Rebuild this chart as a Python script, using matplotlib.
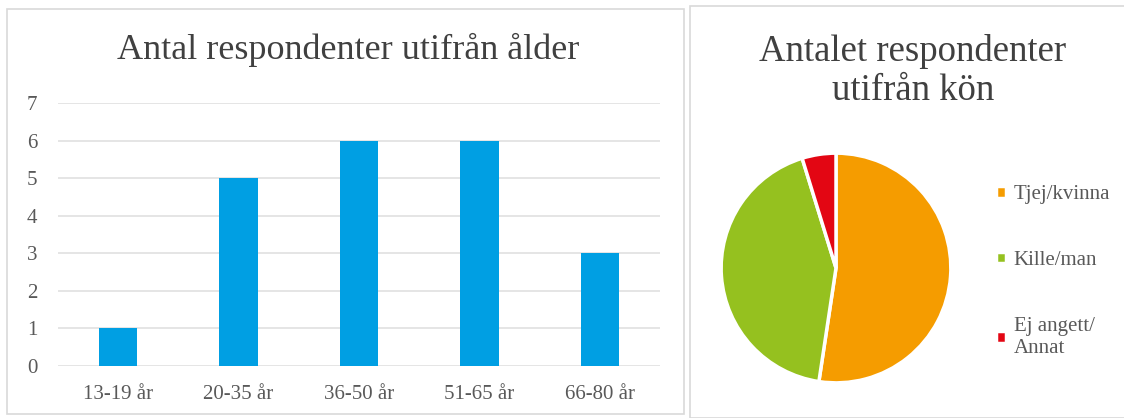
import matplotlib
matplotlib.use('Agg')
import matplotlib.pyplot as plt
from matplotlib.patches import Rectangle

plt.rcParams['font.family'] = ['Liberation Serif', 'DejaVu Serif']

# Data
age_groups = ['13-19 år', '20-35 år', '36-50 år', '51-65 år', '66-80 år']
age_counts = [1, 5, 6, 6, 3]

gender_labels = ['Tjej/kvinna', 'Kille/man', 'Ej angett/\nAnnat']
gender_counts = [11, 9, 1]
gender_colors = ['#F59C00', '#95C11F', '#E30613']

bar_color = '#009FE3'
text_color = '#595959'
title_color = '#404040'

W, H = 1124, 418
fig = plt.figure(figsize=(W / 100, H / 100), dpi=100)
fig.patch.set_facecolor('white')

# panel frames
fig.patches.append(Rectangle((7 / W, 4 / H), 677 / W, 405 / H, transform=fig.transFigure,
                             fill=False, edgecolor='#d9d9d9', linewidth=1.2))
fig.patches.append(Rectangle((690 / W, 0), 440 / W, 412 / H, transform=fig.transFigure,
                             fill=False, edgecolor='#d9d9d9', linewidth=1.2))

# Bar chart
ax = fig.add_axes([58 / W, 1 - 366 / H, 602 / W, 263 / H])
x = range(len(age_groups))
ax.bar(x, age_counts, width=0.32, color=bar_color, zorder=3)
ax.set_xlim(-0.5, len(age_groups) - 0.5)
ax.set_ylim(0, 7)
ax.set_yticks(range(0, 8))
ax.set_xticks(list(x))
ax.set_xticklabels(age_groups)
ax.yaxis.grid(True, color='#e3e3e3', linewidth=1.3, zorder=0)
ax.tick_params(length=0, labelsize=15, colors=text_color)
ax.tick_params(axis='x', pad=14)
ax.tick_params(axis='y', pad=15)
for s in ax.spines.values():
    s.set_visible(False)
fig.text(348 / W, 1 - 50 / H, 'Antal respondenter utifrån ålder', ha='center', va='center',
         fontsize=26, color=title_color)

# Pie chart
cx, cy, r = 836, 268, 116
pax = fig.add_axes([(cx - r) / W, 1 - (cy + r) / H, 2 * r / W, 2 * r / H])
wedges, _ = pax.pie(gender_counts, colors=gender_colors, startangle=90, counterclock=False,
                    wedgeprops=dict(edgecolor='white', linewidth=2.5))
pax.set_xlim(-1.01, 1.01)
pax.set_ylim(-1.01, 1.01)
pax.set_aspect('equal')
fig.text(913 / W, 1 - 71 / H, 'Antalet respondenter\nutifrån kön', ha='center', va='center',
         fontsize=26.5, color=title_color, linespacing=1.2)

leg = fig.legend(wedges, gender_labels, loc='upper left', bbox_to_anchor=(996 / W, 1 - 185 / H),
                 frameon=False, fontsize=15, labelcolor=text_color, handlelength=0.5,
                 handleheight=0.5, handletextpad=0.35, labelspacing=2.25, borderaxespad=0,
                 borderpad=0)

fig.savefig('out.png', dpi=100, facecolor='white')
